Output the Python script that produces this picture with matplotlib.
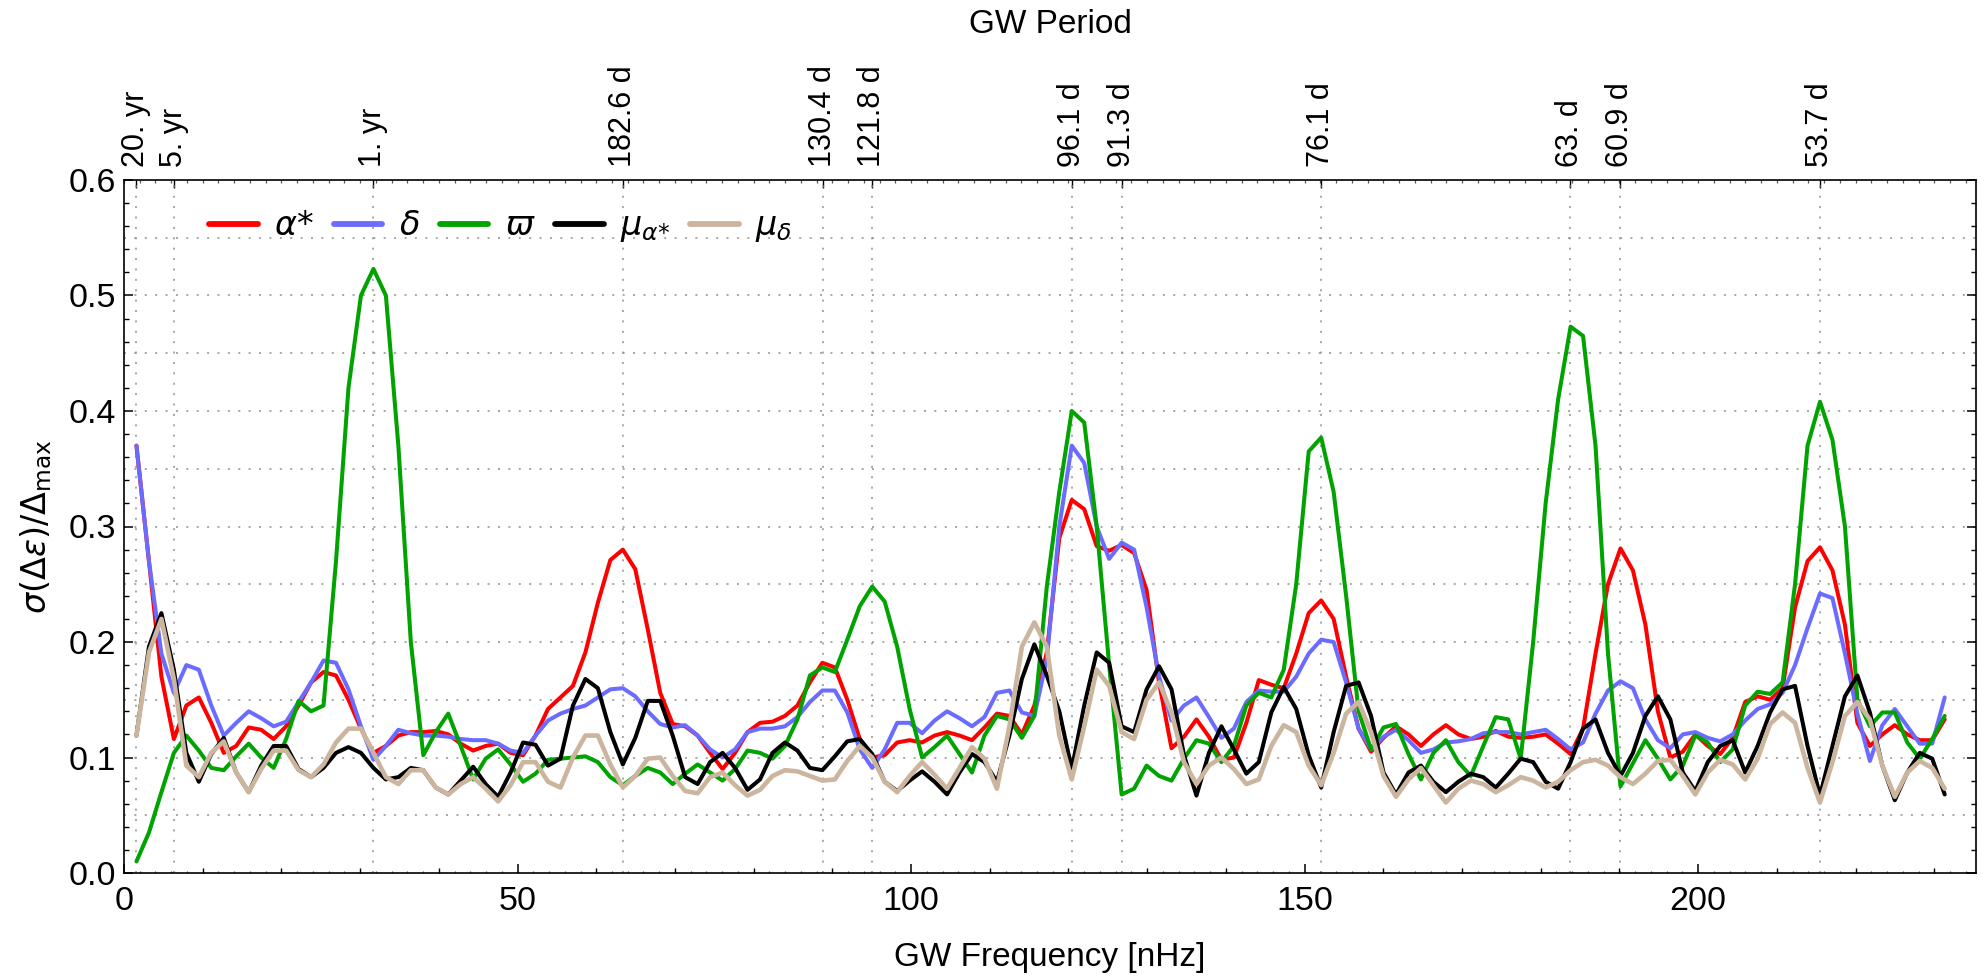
import numpy as np
import matplotlib
matplotlib.use('Agg')
import matplotlib.pyplot as plt
from matplotlib.ticker import MultipleLocator, FixedLocator, NullFormatter, FormatStrFormatter

plt.rcParams['font.family'] = ['Liberation Sans', 'DejaVu Sans']
plt.rcParams['mathtext.fontset'] = 'dejavusans'

# ---------------- data ----------------
# frequency grid: k / (20 yr), k = 1..146  [nHz]
f_step = 1e9 / (20 * 365.25 * 86400)
n_points = 146

alpha_star = [
    0.370, 0.270, 0.170, 0.116, 0.145, 0.152, 0.130, 0.104, 0.110, 0.126,
    0.124, 0.116, 0.127, 0.145, 0.165, 0.174, 0.171, 0.150, 0.125, 0.104,
    0.110, 0.119, 0.122, 0.122, 0.123, 0.120, 0.112, 0.106, 0.110, 0.112,
    0.104, 0.102, 0.119, 0.142, 0.152, 0.162, 0.191, 0.234, 0.271, 0.280,
    0.263, 0.211, 0.156, 0.129, 0.127, 0.119, 0.104, 0.090, 0.104, 0.122,
    0.130, 0.131, 0.136, 0.145, 0.165, 0.182, 0.178, 0.150, 0.116, 0.100,
    0.102, 0.113, 0.115, 0.113, 0.119, 0.122, 0.119, 0.115, 0.126, 0.138,
    0.136, 0.120, 0.145, 0.191,
    0.290, 0.323, 0.315, 0.283, 0.279, 0.284, 0.277, 0.245, 0.165, 0.108,
    0.118, 0.133, 0.118, 0.098, 0.100, 0.130, 0.167, 0.163, 0.160, 0.190,
    0.225, 0.236, 0.220, 0.170, 0.125, 0.105, 0.117, 0.127, 0.120, 0.110,
    0.120, 0.128, 0.120, 0.116, 0.118, 0.123, 0.118, 0.117, 0.118, 0.120,
    0.112, 0.103, 0.125, 0.190, 0.250, 0.281, 0.262, 0.215, 0.140, 0.100,
    0.105, 0.120, 0.110, 0.103, 0.117, 0.148, 0.153, 0.150, 0.160, 0.230,
    0.270, 0.282, 0.262, 0.215, 0.130, 0.110, 0.120, 0.128, 0.120, 0.115,
    0.115, 0.133]

delta = [
    0.370, 0.270, 0.190, 0.156, 0.180, 0.176, 0.145, 0.119, 0.130, 0.140,
    0.134, 0.127, 0.131, 0.148, 0.165, 0.184, 0.182, 0.159, 0.127, 0.098,
    0.110, 0.124, 0.121, 0.119, 0.119, 0.118, 0.116, 0.115, 0.115, 0.112,
    0.106, 0.104, 0.119, 0.132, 0.138, 0.142, 0.145, 0.152, 0.159, 0.160,
    0.153, 0.140, 0.129, 0.126, 0.128, 0.119, 0.107, 0.100, 0.107, 0.122,
    0.125, 0.125, 0.127, 0.135, 0.148, 0.158, 0.158, 0.139, 0.107, 0.091,
    0.107, 0.130, 0.130, 0.121, 0.132, 0.140, 0.134, 0.127, 0.135, 0.156,
    0.158, 0.139, 0.136, 0.185,
    0.300, 0.370, 0.355, 0.300, 0.272, 0.286, 0.280, 0.230, 0.170, 0.132,
    0.145, 0.152, 0.135, 0.117, 0.125, 0.148, 0.158, 0.157, 0.157, 0.170,
    0.190, 0.202, 0.200, 0.165, 0.125, 0.107, 0.118, 0.124, 0.115, 0.104,
    0.107, 0.113, 0.114, 0.116, 0.121, 0.122, 0.122, 0.120, 0.122, 0.124,
    0.116, 0.107, 0.113, 0.138, 0.158, 0.166, 0.160, 0.133, 0.115, 0.108,
    0.120, 0.122, 0.117, 0.114, 0.120, 0.132, 0.142, 0.146, 0.156, 0.180,
    0.212, 0.242, 0.238, 0.190, 0.138, 0.097, 0.128, 0.142, 0.127, 0.112,
    0.112, 0.152]

parallax = [
    0.010, 0.035, 0.070, 0.104, 0.119, 0.106, 0.091, 0.089, 0.101, 0.112,
    0.100, 0.091, 0.116, 0.149, 0.140, 0.145, 0.270, 0.420, 0.500, 0.523,
    0.500, 0.370, 0.200, 0.102, 0.122, 0.138, 0.110, 0.081, 0.099, 0.107,
    0.094, 0.079, 0.086, 0.098, 0.099, 0.100, 0.101, 0.096, 0.083, 0.076,
    0.084, 0.091, 0.087, 0.077, 0.086, 0.094, 0.087, 0.080, 0.090, 0.106,
    0.104, 0.099, 0.110, 0.133, 0.171, 0.178, 0.174, 0.202, 0.231, 0.248,
    0.235, 0.196, 0.142, 0.100, 0.109, 0.119, 0.103, 0.087, 0.119, 0.136,
    0.133, 0.117, 0.136, 0.248,
    0.330, 0.400, 0.390, 0.300, 0.180, 0.068, 0.073, 0.093, 0.084, 0.080,
    0.099, 0.115, 0.112, 0.096, 0.110, 0.145, 0.156, 0.152, 0.176, 0.250,
    0.365, 0.377, 0.330, 0.240, 0.140, 0.107, 0.126, 0.129, 0.103, 0.081,
    0.104, 0.115, 0.096, 0.084, 0.110, 0.135, 0.133, 0.099, 0.200, 0.320,
    0.410, 0.473, 0.465, 0.370, 0.190, 0.075, 0.095, 0.115, 0.099, 0.081,
    0.093, 0.119, 0.113, 0.096, 0.107, 0.145, 0.157, 0.155, 0.165, 0.250,
    0.370, 0.408, 0.375, 0.300, 0.150, 0.127, 0.139, 0.139, 0.113, 0.099,
    0.116, 0.136]

mu_alpha = [
    0.119, 0.196, 0.225, 0.176, 0.104, 0.079, 0.103, 0.117, 0.087, 0.070,
    0.093, 0.110, 0.110, 0.090, 0.083, 0.091, 0.104, 0.109, 0.104, 0.091,
    0.081, 0.083, 0.091, 0.089, 0.074, 0.068, 0.080, 0.092, 0.077, 0.066,
    0.087, 0.113, 0.111, 0.093, 0.099, 0.145, 0.168, 0.160, 0.122, 0.094,
    0.117, 0.149, 0.149, 0.119, 0.083, 0.077, 0.096, 0.104, 0.091, 0.072,
    0.081, 0.104, 0.113, 0.106, 0.091, 0.089, 0.101, 0.114, 0.116, 0.103,
    0.079, 0.071, 0.080, 0.088, 0.079, 0.068, 0.087, 0.103, 0.096, 0.079,
    0.119, 0.168, 0.198, 0.171,
    0.140, 0.090, 0.145, 0.191, 0.182, 0.127, 0.122, 0.159, 0.179, 0.159,
    0.102, 0.067, 0.104, 0.127, 0.107, 0.086, 0.096, 0.139, 0.161, 0.142,
    0.102, 0.074, 0.122, 0.162, 0.165, 0.136, 0.087, 0.068, 0.087, 0.093,
    0.079, 0.070, 0.079, 0.086, 0.083, 0.074, 0.086, 0.099, 0.096, 0.079,
    0.073, 0.096, 0.125, 0.133, 0.104, 0.084, 0.104, 0.136, 0.153, 0.133,
    0.087, 0.071, 0.096, 0.110, 0.115, 0.087, 0.110, 0.139, 0.159, 0.162,
    0.110, 0.067, 0.110, 0.153, 0.171, 0.139, 0.093, 0.063, 0.087, 0.104,
    0.099, 0.068]

mu_delta = [
    0.119, 0.191, 0.220, 0.168, 0.093, 0.083, 0.104, 0.114, 0.087, 0.070,
    0.090, 0.106, 0.106, 0.089, 0.083, 0.094, 0.113, 0.125, 0.125, 0.104,
    0.083, 0.077, 0.089, 0.089, 0.074, 0.068, 0.077, 0.083, 0.073, 0.062,
    0.076, 0.096, 0.096, 0.079, 0.074, 0.100, 0.119, 0.119, 0.094, 0.074,
    0.084, 0.099, 0.100, 0.084, 0.071, 0.069, 0.083, 0.087, 0.076, 0.067,
    0.072, 0.084, 0.089, 0.088, 0.084, 0.080, 0.081, 0.097, 0.110, 0.100,
    0.079, 0.070, 0.084, 0.096, 0.085, 0.073, 0.091, 0.109, 0.099, 0.073,
    0.127, 0.196, 0.217, 0.196,
    0.119, 0.081, 0.127, 0.176, 0.162, 0.122, 0.116, 0.150, 0.165, 0.139,
    0.096, 0.077, 0.093, 0.100, 0.090, 0.077, 0.081, 0.110, 0.128, 0.122,
    0.093, 0.076, 0.104, 0.138, 0.148, 0.122, 0.084, 0.066, 0.081, 0.091,
    0.076, 0.061, 0.073, 0.080, 0.077, 0.070, 0.076, 0.083, 0.080, 0.074,
    0.079, 0.089, 0.096, 0.098, 0.093, 0.083, 0.077, 0.086, 0.097, 0.098,
    0.084, 0.068, 0.087, 0.098, 0.094, 0.081, 0.099, 0.129, 0.139, 0.130,
    0.091, 0.061, 0.096, 0.136, 0.148, 0.133, 0.093, 0.066, 0.087, 0.097,
    0.091, 0.073]

series_labels = [r'$\alpha{*}$', r'$\delta$', r'$\varpi$', r'$\mu_{\alpha{*}}$', r'$\mu_{\delta}$']
series_colors = ['#FF0000', '#6B6BFF', '#00A300', '#000000', '#CCB59E']

period_labels = ['20. yr', '5. yr', '1. yr', '182.6 d', '130.4 d', '121.8 d',
                 '96.1 d', '91.3 d', '76.1 d', '63. d', '60.9 d', '53.7 d']
period_days = [20 * 365.25, 5 * 365.25, 365.25, 182.6, 130.4, 121.8,
               96.1, 91.3, 76.1, 63.0, 60.9, 53.7]

x_tick_values = [0, 50, 100, 150, 200]
y_tick_values = [0.0, 0.1, 0.2, 0.3, 0.4, 0.5, 0.6]

# ---------------- figure ----------------
freq = f_step * np.arange(1, n_points + 1)
period_freq = [1e9 / (d * 86400) for d in period_days]

W, H = 1984, 976
fig = plt.figure(figsize=(W / 100, H / 100), dpi=100)
ax_l, ax_r, ax_t, ax_b = 124, 1976, 180, 873
ax = fig.add_axes([ax_l / W, 1 - ax_b / H, (ax_r - ax_l) / W, (ax_b - ax_t) / H])
ax.set_xlim(0, 235.3)
ax.set_ylim(0, 0.6)

grid_kw = dict(color='#8f8f8f', lw=1.1, ls=(0, (1.3, 5.5)), zorder=0.5)
for yv in np.arange(0.05, 0.6, 0.05):
    ax.axhline(yv, **grid_kw)
for xv in period_freq:
    ax.axvline(xv, **grid_kw)

all_series = [alpha_star, delta, parallax, mu_alpha, mu_delta]
lws = [2.9, 2.9, 2.9, 2.9, 3.3]
for vals, lab, col, lw in zip(all_series, series_labels, series_colors, lws):
    ax.plot(freq, vals, color=col, lw=lw, label=lab, solid_joinstyle='round',
            solid_capstyle='round', zorder=2)

# spines
for s in ax.spines.values():
    s.set_linewidth(1.2)
    s.set_zorder(5)

# x ticks
ax.xaxis.set_major_locator(FixedLocator(x_tick_values))
ax.xaxis.set_minor_locator(MultipleLocator(10))
ax.tick_params(axis='x', which='major', direction='in', length=6.5, width=1.1,
               labelsize=24.5, pad=9, top=False)
ax.tick_params(axis='x', which='minor', direction='in', length=3.5, width=1.0, top=False)

# y ticks
ax.yaxis.set_major_locator(FixedLocator(y_tick_values))
ax.yaxis.set_minor_locator(MultipleLocator(0.02))
ax.yaxis.set_major_formatter(FormatStrFormatter('%.1f'))
ax.tick_params(axis='y', which='major', direction='in', length=6.5, width=1.1,
               labelsize=24.5, pad=5.5, right=True)
ax.tick_params(axis='y', which='minor', direction='in', length=3.5, width=1.0, right=True)

# tiny ticks every 2 nHz, bottom and top
for side in ('bottom', 'top'):
    sec = ax.secondary_xaxis(side)
    sec.xaxis.set_major_locator(MultipleLocator(2))
    sec.xaxis.set_major_formatter(NullFormatter())
    sec.tick_params(direction='in', length=1.8, width=0.9, color='#555555')
    for s in sec.spines.values():
        s.set_visible(False)

# top period axis
top = ax.secondary_xaxis('top')
top.set_xticks(period_freq)
top.set_xticklabels(period_labels, rotation=90, fontsize=22)
top.tick_params(direction='in', length=5.5, width=1.0, pad=9)
for s in top.spines.values():
    s.set_visible(False)

# labels
fig.text((ax_l + ax_r) / 2 / W, 1 - 966 / H, 'GW Frequency [nHz]', ha='center', va='baseline', fontsize=24)
fig.text((ax_l + ax_r) / 2 / W, 1 - 33 / H, 'GW Period', ha='center', va='baseline', fontsize=24)
fig.text(36 / W, 1 - 527 / H, r'$\sigma(\Delta\epsilon)/\Delta_{\rm max}$', ha='center', va='center',
         rotation=90, fontsize=24)

leg = ax.legend(loc='center left', bbox_to_anchor=(0.046, 0.931), ncol=5, frameon=False,
                fontsize=24, handlelength=1.45, handletextpad=0.5, columnspacing=0.6,
                borderpad=0, borderaxespad=0)
for line in leg.get_lines():
    line.set_linewidth(4.2)

fig.savefig('out.png', dpi=100)
